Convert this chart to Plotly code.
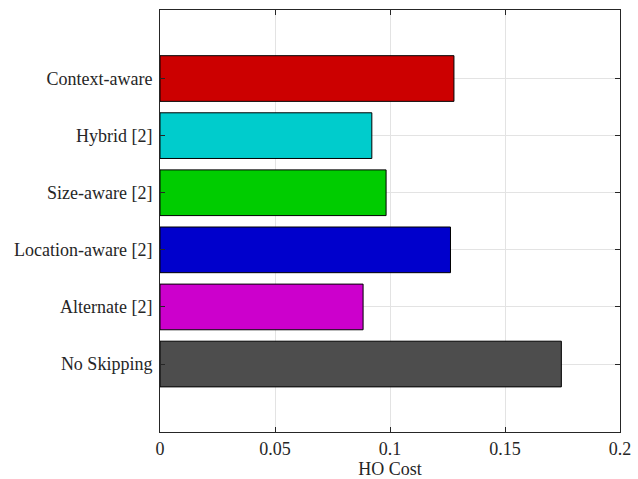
import plotly.graph_objects as go

categories = ["No Skipping", "Alternate [2]", "Location-aware [2]", "Size-aware [2]", "Hybrid [2]", "Context-aware"]
ho_cost = [0.1745, 0.0883, 0.1263, 0.0983, 0.0921, 0.1278]
colors = ["#4d4d4d", "#cc00cc", "#0000cc", "#00cc00", "#00cccc", "#cc0000"]
x_ticks = [0, 0.05, 0.1, 0.15, 0.2]
x_tick_text = ["0", "0.05", "0.1", "0.15", "0.2"]

font = "Liberation Serif"

fig = go.Figure(go.Bar(
    x=ho_cost, y=categories, orientation="h", width=0.8,
    marker=dict(color=colors, line=dict(color="#000000", width=1)),
))

axis_common = dict(
    showline=True, linecolor="#262626", linewidth=1, mirror="ticks",
    ticks="inside", ticklen=5, tickcolor="#262626", tickwidth=1,
    showgrid=True, gridcolor="#e3e3e3", gridwidth=1, zeroline=False,
    automargin=False,
    tickfont=dict(family=font, size=18, color="#262626"),
)

fig.update_layout(
    width=638, height=479,
    margin=dict(l=160, r=18, t=10, b=47),
    paper_bgcolor="white", plot_bgcolor="white",
    showlegend=False,
    xaxis=dict(range=[0, 0.2], tickvals=x_ticks, ticktext=x_tick_text,
               title=dict(text="HO Cost", font=dict(family=font, size=18, color="#262626"), standoff=4),
               **axis_common),
    yaxis=dict(type="category", categoryorder="array", categoryarray=categories,
               range=[-1.19, 6.2], ticklabelstandoff=3, **axis_common),
)

fig.write_html("out.html", config={"displayModeBar": False},
               post_script="document.body.style.margin='0';")
